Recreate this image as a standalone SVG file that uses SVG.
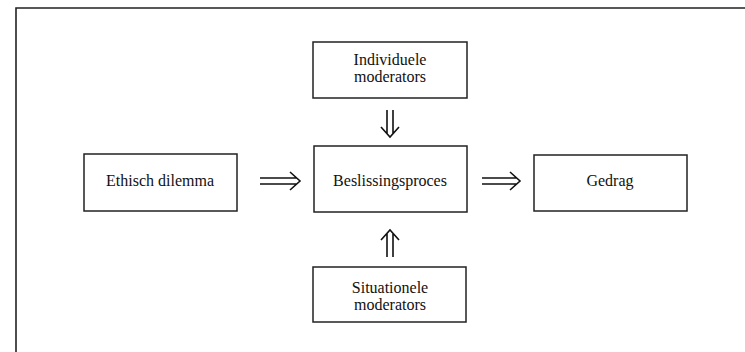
<svg xmlns="http://www.w3.org/2000/svg" width="745" height="352" viewBox="0 0 745 352">
<style>
.box{fill:#fff;stroke:#222;stroke-width:1.5}
.t{font-family:"Liberation Serif","Times New Roman",serif;font-size:16px;fill:#111;text-anchor:middle}
.arr{fill:none;stroke:#111;stroke-width:1.6}
</style>
<rect width="745" height="352" fill="#fff"/>
<path d="M16,352 V8 H745" fill="none" stroke="#222" stroke-width="1.6"/>
<g id="individuele">
<rect class="box" x="313" y="42" width="154" height="56"/>
<text class="t" x="390" y="65">Individuele</text>
<text class="t" x="390" y="82">moderators</text>
</g>
<g id="ethisch">
<rect class="box" x="84" y="154" width="153" height="57"/>
<text class="t" x="160" y="186">Ethisch dilemma</text>
</g>
<g id="beslissing">
<rect class="box" x="314" y="146" width="153" height="66"/>
<text class="t" x="390" y="186">Beslissingsproces</text>
</g>
<g id="gedrag">
<rect class="box" x="534" y="155" width="153" height="56"/>
<text class="t" x="610" y="186">Gedrag</text>
</g>
<g id="situationele">
<rect class="box" x="313" y="267" width="153" height="55"/>
<text class="t" x="390" y="293">Situationele</text>
<text class="t" x="390" y="310">moderators</text>
</g>
<g id="connectors">
<path class="arr" d="M260,178 H297 M260,184 H297 M290,172 L300,181 L290,190"/>
<path class="arr" d="M482,178 H517 M482,184 H517 M510,172 L520,181 L510,190"/>
<path class="arr" d="M387,110 V134 M393,110 V134 M381,127 L390,137 L399,127"/>
<path class="arr" d="M387,257 V233 M393,257 V233 M381,240 L390,230 L399,240"/>
</g>
</svg>
